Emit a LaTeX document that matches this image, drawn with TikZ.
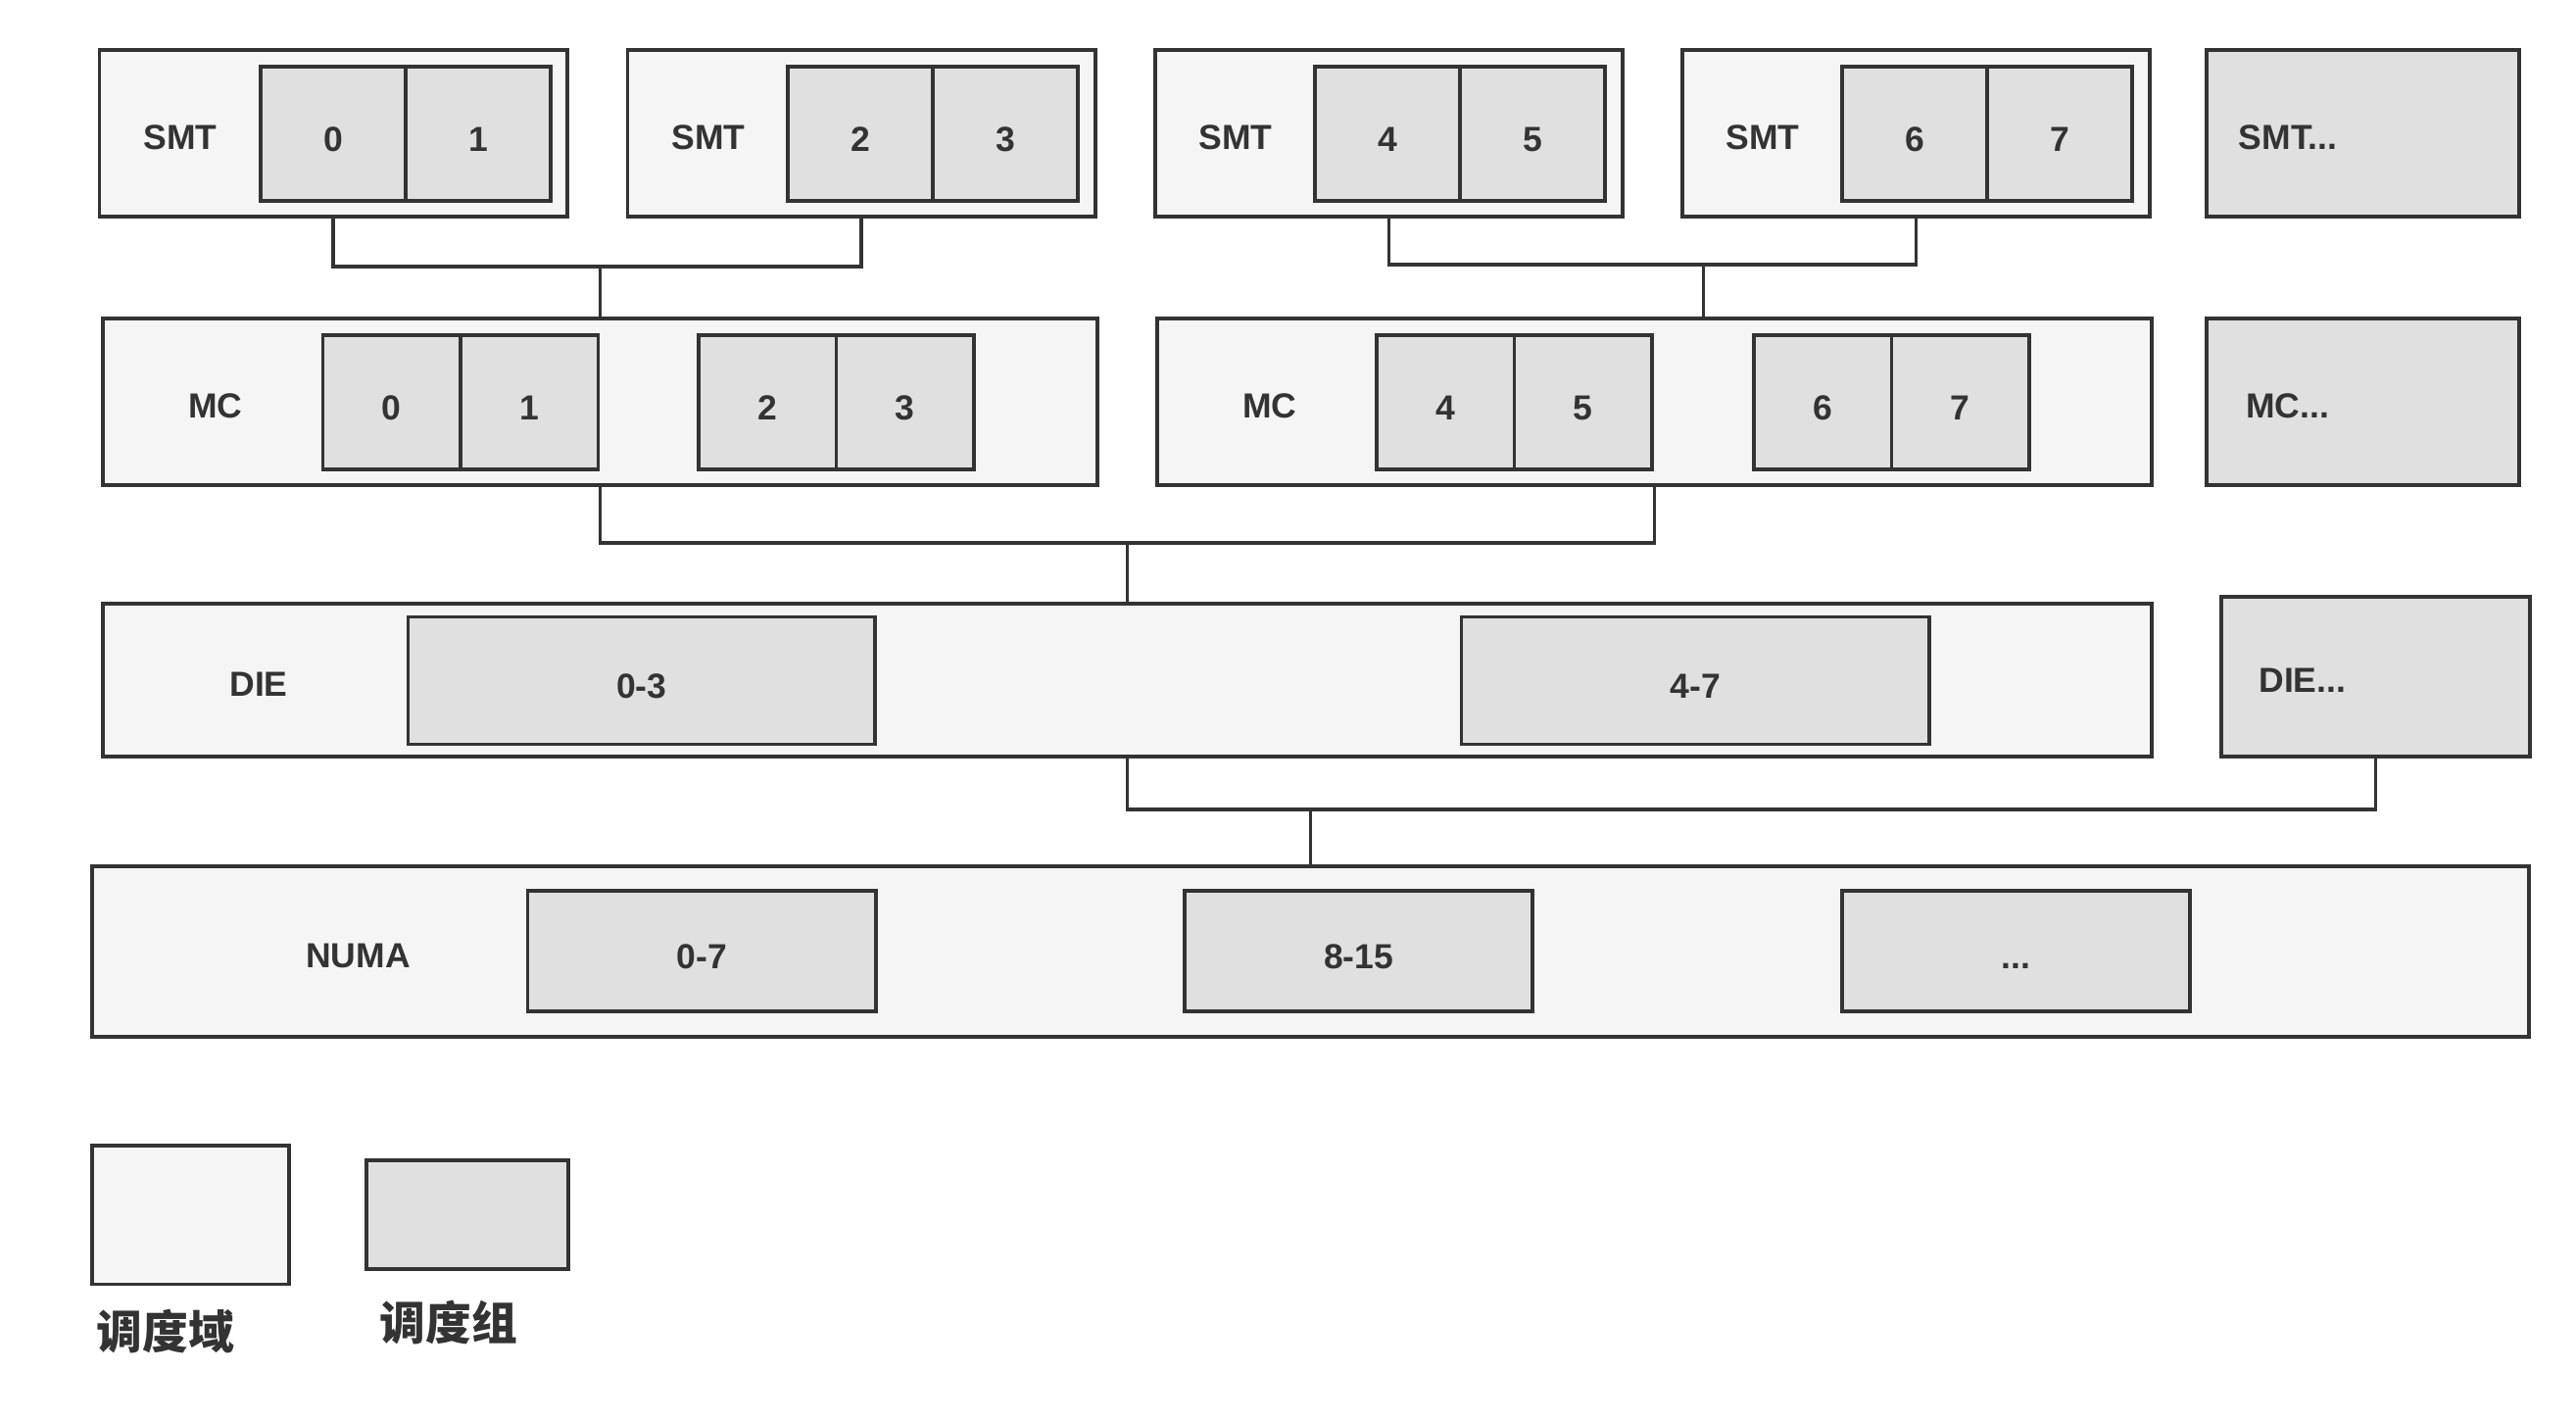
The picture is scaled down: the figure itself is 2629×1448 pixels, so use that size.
\documentclass[tikz,border=0pt]{standalone}
\usepackage{fontspec}
\setmainfont{Liberation Sans}
\newfontfamily\cjk{Noto Sans CJK SC}
\definecolor{linegray}{HTML}{333333}
\definecolor{domfill}{HTML}{F5F5F5}
\definecolor{grpfill}{HTML}{E0E0E0}
\newcommand{\lblSty}{\fontsize{10.1}{12}\selectfont\bfseries}
\newcommand{\legSty}{\cjk\fontsize{13.3}{15}\selectfont\bfseries}
\tikzset{
  dom/.style={draw=linegray, fill=domfill, line width=1.1pt, anchor=north west, inner sep=0pt},
  grp/.style={dom, fill=grpfill, font=\lblSty, text=linegray, text height=0.36cm, text depth=0pt},
  lbl/.style={font=\lblSty, text=linegray, inner sep=0pt, text height=0.36cm, text depth=0pt},
  smtbox/.style={dom, minimum width=4.77cm, minimum height=1.70cm},
  smtcell/.style={grp, minimum width=1.48cm, minimum height=1.37cm},
  mcbox/.style={dom, minimum width=10.145cm, minimum height=1.70cm},
  mccell/.style={grp, minimum width=1.405cm, minimum height=1.37cm},
  conn/.style={draw=linegray, line width=0.9pt},
}
\begin{document}
\begin{tikzpicture}[x=0.01cm, y=-0.01cm]

		\useasboundingbox (0,0) rectangle (2629,1448);

		% SMT domains
		\node[smtbox] (smt1) at (99.5,49) {};
		\node[lbl] (smt1l) at (184,134.5) {SMT};
		\node[smtcell] (s0) at (264,66) {0};
		\node[smtcell] (s1) at (412,66) {1};

		\node[smtbox] (smt2) at (638.5,49) {};
		\node[lbl] (smt2l) at (723,134.5) {SMT};
		\node[smtcell] (s2) at (802,66) {2};
		\node[smtcell] (s3) at (950,66) {3};

		\node[smtbox] (smt3) at (1177,49) {};
		\node[lbl] (smt3l) at (1261,134.5) {SMT};
		\node[smtcell] (s4) at (1340,66) {4};
		\node[smtcell] (s5) at (1488,66) {5};

		\node[smtbox] (smt4) at (1715,49) {};
		\node[lbl] (smt4l) at (1799,134.5) {SMT};
		\node[smtcell] (s6) at (1878,66) {6};
		\node[smtcell] (s7) at (2026,66) {7};

		% SMT ... 
		\node[dom, fill=grpfill, minimum width=3.19cm, minimum height=1.70cm] (smtx) at (2250,49) {};
		\node[lbl, anchor=west] (smtxl) at (2284,134.5) {SMT...};

		% MC domains
		\node[mcbox] (mc1) at (103,323) {};
		\node[lbl] (mc1l) at (220,408.5) {MC};
		\node[mccell] (m0) at (327.5,340) {0};
		\node[mccell] (m1) at (468,340) {1};
		\node[mccell] (m2) at (711,340) {2};
		\node[mccell] (m3) at (851.5,340) {3};

		\node[mcbox] (mc2) at (1179,323) {};
		\node[lbl] (mc2l) at (1296,408.5) {MC};
		\node[mccell] (m4) at (1403,340) {4};
		\node[mccell] (m5) at (1543.5,340) {5};
		\node[mccell] (m6) at (1788,340) {6};
		\node[mccell] (m7) at (1928.5,340) {7};

		% MC ...
		\node[dom, fill=grpfill, minimum width=3.19cm, minimum height=1.70cm] (mcx) at (2250,323) {};
		\node[lbl, anchor=west] (mcxl) at (2291.5,408.5) {MC...};

		% DIE domain
		\node[dom, minimum width=20.90cm, minimum height=1.56cm] (die) at (103,614) {};
		\node[lbl] (diel) at (264,692) {DIE};
		\node[grp, minimum width=4.76cm, minimum height=1.30cm] (d03) at (414.6,627.5) {0-3};
		\node[grp, minimum width=4.77cm, minimum height=1.30cm] (d47) at (1489.6,627.5) {4-7};

		% DIE ...
		\node[dom, fill=grpfill, minimum width=3.15cm, minimum height=1.63cm] (diex) at (2265,607) {};
		\node[lbl, anchor=west] (diexl) at (2304.7,688.5) {DIE...};

		% NUMA domain
		\node[dom, minimum width=24.86cm, minimum height=1.74cm] (numa) at (92,882) {};
		\node[lbl] (numal) at (365.5,969) {NUMA};
		\node[grp, minimum width=3.55cm, minimum height=1.237cm] (n07) at (536.6,906.7) {0-7};
		\node[grp, minimum width=3.55cm, minimum height=1.237cm] (n815) at (1207,906.7) {8-15};
		\node[grp, minimum width=3.55cm, minimum height=1.237cm] (nx) at (1878,906.7) {...};

		% SMT -> MC
		\coordinate (j1) at (mc1.north |- 0,272);
		\draw[conn] (smt1.south) |- (j1) -| (smt2.south);
		\draw[conn] (j1) -- (mc1.north);
		\coordinate (j2) at (1738.7,270);
		\draw[conn] (smt3.south) |- (j2) -| (smt4.south);
		\draw[conn] (j2) -- (j2 |- mc2.north);

		% MC -> DIE
		\coordinate (j3) at (die.north |- 0,554);
		\draw[conn] (mc1.south) |- (j3) -| (mc2.south);
		\draw[conn] (j3) -- (die.north);

		% DIE -> NUMA
		\coordinate (j4) at (numa.north |- 0,826);
		\draw[conn] (die.south) |- (j4) -| (diex.south);
		\draw[conn] (j4) -- (numa.north);

		% legend
		\node[dom, minimum width=2.01cm, minimum height=1.415cm] (legdom) at (92,1167) {};
		\node[dom, fill=grpfill, minimum width=2.06cm, minimum height=1.11cm] (leggrp) at (372,1182) {};
		\node[font=\legSty, text=linegray, inner sep=0pt] (legdoml) at (169,1359) {调度域};
		\node[font=\legSty, text=linegray, inner sep=0pt] (leggrpl) at (458,1350) {调度组};

\end{tikzpicture}
\end{document}
